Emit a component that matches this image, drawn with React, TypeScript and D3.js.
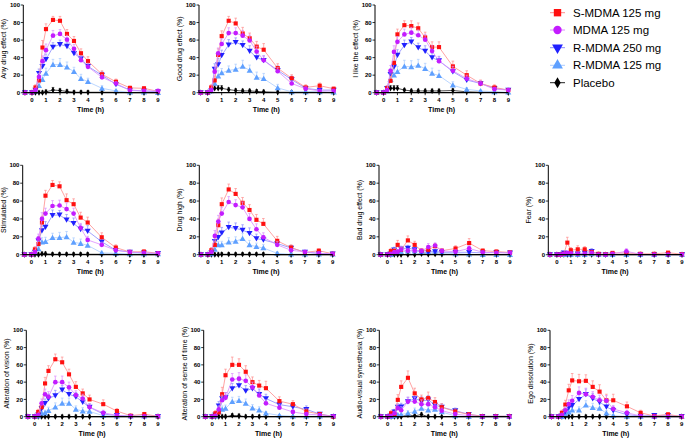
import React from 'react';
import * as d3 from 'd3';

const TIMES = [-0.5, 0, 0.25, 0.5, 0.75, 1, 1.5, 2, 2.5, 3, 3.5, 4, 5, 6, 7, 8, 9];
const X_TICKS = [0, 1, 2, 3, 4, 5, 6, 7, 8, 9];
const Y_TICKS = [0, 20, 40, 60, 80, 100];
const SERIES_NAMES = ['S-MDMA 125 mg', 'MDMA 125 mg', 'R-MDMA 250 mg', 'R-MDMA 125 mg', 'Placebo'];
const PANEL_TITLES = [
  'Any drug effect (%)', 'Good drug effect (%)', 'I like the effect (%)',
  'Stimulated (%)', 'Drug high (%)', 'Bad drug effect (%)', 'Fear (%)',
  'Alteration of vision (%)', 'Alteration of sense of time (%)', 'Audio-visual synesthesia (%)', 'Ego dissolution (%)',
];

// ---- Any drug effect
const anyS = [0, 0, 6, 14, 51.5, 72.5, 83, 82, 67, 59, 45, 36, 21, 12.5, 5.5, 5, 1.5];
const anyM = [0, 0, 3, 18, 36, 48.5, 65, 67, 60.5, 50, 37, 29.5, 17.5, 10.5, 2.7, 2, 2];
const anyR250 = [0, 0, 3, 22, 30, 38, 52, 55, 53, 45, 39, 30, 20, 9.5, 3, 2, 1];
const anyR125 = [0, 0, 2, 8, 15, 22, 32, 32, 29, 24, 16, 12.5, 5, 2, 0.5, 0.5, 0];
const anyP = [0, 0, 0, 0, 0, 1, 3, 2.5, 1.5, 0.5, 0.5, 0.5, 0.5, 0.5, 0, 0, 0];
const anySe = [0, 0, 3, 4, 8, 6, 4, 5, 5, 5, 5, 5, 4, 3, 2, 2, 1];
const anyMe = [0, 0, 2, 4, 6, 7, 6, 5, 5, 5, 4, 4, 3, 2, 1, 1, 1];
const anyR250e = [0, 0, 2, 5, 6, 6, 5, 5, 4, 5, 4, 4, 4, 3, 2, 1, 1];
const anyR125e = [0, 0, 2, 4, 5, 6, 6, 7, 6, 5, 5, 4, 3, 2, 1, 1, 0];
const anyPe = [0, 0, 2, 2, 2, 2, 3, 2, 2, 2, 2, 2, 2, 2, 2, 2, 0];

// ---- Good drug effect
const goodS = [0, 0, 6, 14, 43, 64.5, 82, 79, 67.5, 62, 52.5, 49, 28, 16.5, 6, 8, 4.5];
const goodM = [0, 0, 3, 24, 45, 55.5, 68, 68, 65, 59.5, 47, 37, 24.5, 10.5, 4.5, 2, 2];
const goodR250 = [0, 0, 2, 27, 32, 42.5, 54.5, 57.5, 54, 47.5, 40, 37, 25.5, 15, 5, 3, 3];
const goodR125 = [0, 0, 2, 10.5, 19, 22.5, 25.5, 26.5, 30, 25.5, 17.5, 16, 5.5, 1, 1, 1, 0.5];
const goodP = [0, 0, 3, 5, 5, 5, 3.5, 2.5, 2, 2, 1.5, 1, 0.5, 0.5, 0.5, 0.5, 0];
const goodSe = [0, 0, 3, 5, 7, 6, 5, 6, 7, 6, 6, 7, 5, 4, 3, 3, 2];
const goodMe = [0, 0, 2, 6, 6, 6, 6, 6, 6, 6, 6, 5, 4, 3, 2, 1, 1];
const goodR250e = [0, 0, 2, 6, 7, 6, 6, 5, 5, 6, 5, 5, 5, 4, 2, 2, 2];
const goodR125e = [0, 0, 2, 5, 6, 5, 5, 6, 7, 6, 6, 6, 4, 1, 1, 1, 1];
const goodPe = [0, 0, 2, 3, 3, 3, 2, 2, 2, 2, 2, 2, 2, 2, 2, 2, 0];

// ---- I like the effect
const likeS = [0, 0, 5, 13.5, 34, 66.5, 77, 76, 73.5, 63, 52, 52, 30, 20, 10.5, 6, 3];
const likeM = [0, 0, 3, 25, 46.5, 58, 66.5, 68.5, 65.5, 60.5, 47.5, 36, 25, 16, 10.5, 4, 3];
const likeR250 = [0, 0, 5, 21, 29.5, 43, 54, 58, 51.5, 47.5, 40, 36.5, 24, 14.5, 10.5, 5, 3];
const likeR125 = [0, 0, 2, 15, 20, 24, 30, 29.5, 31, 27.5, 22, 19.5, 8.5, 3.8, 2, 1, 0.5];
const likeP = [0, 0, 4, 5, 5, 5, 3, 2, 2, 2, 2, 2, 2.5, 1, 0.5, 0.5, 0];
const likeSe = [0, 0, 3, 5, 8, 6, 5, 6, 6, 6, 6, 6, 6, 5, 4, 3, 2];
const likeMe = [0, 0, 2, 6, 7, 6, 6, 6, 6, 6, 6, 5, 5, 4, 3, 2, 1];
const likeR250e = [0, 0, 3, 6, 6, 6, 6, 5, 5, 6, 5, 5, 5, 4, 3, 2, 2];
const likeR125e = [0, 0, 2, 5, 6, 6, 7, 7, 7, 6, 6, 6, 4, 2, 1, 1, 1];
const likePe = [0, 0, 2, 3, 3, 3, 2, 2, 2, 2, 2, 2, 2, 2, 2, 2, 0];

// ---- Stimulated
const stimS = [0, 0, 6, 12, 36, 66, 78, 76.5, 61, 56.5, 41.5, 36, 19.5, 8, 3, 3.5, 1.5];
const stimM = [0, 0, 3, 18, 40, 46, 54.5, 55, 51, 46, 30, 16.5, 11, 5, 3, 2, 1.5];
const stimR250 = [0, 0, 3, 15.5, 27, 31, 44, 44.5, 39, 35, 28.5, 26.5, 14.5, 5, 3, 2, 1.5];
const stimR125 = [0, 0, 2, 6.5, 14, 14.5, 19, 19, 20, 13.8, 12.5, 10.5, 2, 1.5, 1, 1, 1];
const stimP = [0, 0, 0, 0, 1, 1, 0.5, 0.5, 0.5, 0.5, 0.5, 0.5, 0.5, 0.5, 0, 0, 0];
const stimSe = [0, 0, 3, 4, 7, 6, 5, 5, 7, 6, 6, 6, 5, 3, 2, 2, 1];
const stimMe = [0, 0, 2, 5, 7, 6, 6, 6, 7, 6, 5, 4, 3, 2, 2, 1, 1];
const stimR250e = [0, 0, 2, 5, 5, 6, 6, 5, 6, 6, 5, 6, 4, 2, 2, 1, 1];
const stimR125e = [0, 0, 1, 3, 5, 5, 5, 6, 6, 5, 5, 4, 2, 1, 1, 1, 0];
const stimPe = [0, 0, 2, 2, 2, 2, 2, 2, 2, 2, 2, 2, 2, 2, 2, 2, 0];

// ---- Drug high
const highS = [0, 0, 5, 11, 33, 56.5, 73, 68, 58, 50, 39, 34.5, 15.5, 8, 2.5, 4.5, 1];
const highM = [0, 0, 3, 21, 37, 46, 59, 55.5, 53, 40, 28.5, 19.5, 11, 5, 3, 1.5, 1];
const highR250 = [0, 0, 2, 15, 19.5, 24.5, 30.5, 29.5, 27.5, 24, 18, 16.5, 12.5, 7.5, 3, 1.5, 1];
const highR125 = [0, 0, 1, 6, 11, 11, 14, 15, 18, 11, 9, 7.5, 1.5, 0.5, 0.5, 0.5, 0.5];
const highP = [0, 0, 0, 0, 0, 0.5, 0.5, 0.5, 0.5, 0.5, 0.5, 0.5, 0, 0, 0, 0, 0];
const highSe = [0, 0, 3, 4, 7, 7, 6, 6, 6, 6, 6, 6, 5, 3, 2, 2, 1];
const highMe = [0, 0, 2, 6, 7, 7, 6, 6, 6, 6, 6, 5, 4, 2, 2, 1, 1];
const highR250e = [0, 0, 2, 5, 6, 6, 6, 6, 6, 6, 5, 5, 4, 3, 2, 1, 1];
const highR125e = [0, 0, 1, 3, 4, 4, 5, 5, 6, 5, 4, 4, 2, 1, 0, 0, 0];
const highPe = [0, 0, 2, 2, 2, 2, 2, 2, 2, 2, 2, 2, 2, 2, 2, 2, 0];

// ---- Bad drug effect
const badS = [0, 0, 4, 4, 11, 5.5, 16, 11, 4.5, 5.5, 9.5, 4.5, 7, 13, 4.5, 3.5, 2.5];
const badM = [0, 0, 1, 2.7, 3.4, 5.7, 4.5, 4.5, 4.2, 8.5, 10.3, 4.2, 3.4, 7, 2.7, 2, 2];
const badR250 = [0, 0, 1, 5.3, 2.7, 6.5, 7.5, 5.7, 2.7, 2.7, 3.4, 2.7, 2.7, 2.7, 2, 2.7, 2];
const badR125 = [0, 0, 0, 2, 3, 3, 4, 4, 3, 3, 4, 2, 1, 0.5, 0, 0, 0];
const badP = [0, 0, 0, 0, 0, 0, 0, 0, 1, 0.5, 0.5, 0.5, 0, 0, 0, 0, 0];
const badSe = [0, 0, 3, 3, 5, 3, 5, 4, 2, 3, 3, 2, 3, 5, 2, 2, 1];
const badMe = [0, 0, 1, 2, 2, 3, 2, 2, 2, 4, 3, 2, 2, 3, 1, 1, 1];
const badR250e = [0, 0, 1, 3, 2, 3, 3, 3, 2, 2, 2, 2, 2, 2, 1, 1, 1];
const badR125e = [0, 0, 0, 2, 2, 2, 2, 2, 2, 2, 2, 1, 1, 0, 0, 0, 0];
const badPe = [0, 0, 2, 2, 2, 2, 2, 2, 2, 2, 2, 2, 2, 2, 2, 2, 0];

// ---- Fear
const fearS = [0, 0, 0, 1, 13.5, 5, 6, 6, 3, 1, 0.5, 2, 2, 1, 1, 2.3, 0.5];
const fearM = [0, 0, 0, 1, 2, 1.5, 1, 1, 2, 0, 0, 1, 3.8, 0.5, 0, 0, 0];
const fearR250 = [0, 0, 0, 2, 1, 1, 1, 2, 3.8, 0.5, 0, 0, 1, 0, 0, 0.5, 0];
const fearR125 = [0, 0, 0, 0, 1, 0, 0, 0, 1, 0, 0, 0, 0, 0, 0, 0, 0];
const fearP = [0, 0, 0, 0, 0, 0, 0, 0, 0, 0, 0, 0, 0, 0, 0, 0, 0];
const fearSe = [0, 0, 0, 1, 6, 3, 4, 3, 2, 1, 0, 1, 1, 1, 1, 1, 0];
const fearMe = [0, 0, 0, 1, 1, 1, 1, 1, 1, 0, 0, 1, 3, 0, 0, 0, 0];
const fearR250e = [0, 0, 0, 1, 1, 1, 1, 1, 3, 0, 0, 0, 1, 0, 0, 0, 0];
const fearR125e = [0, 0, 0, 0, 1, 0, 0, 0, 1, 0, 0, 0, 0, 0, 0, 0, 0];
const fearPe = [0, 0, 2, 2, 2, 2, 0, 0, 0, 0, 0, 0, 0, 0, 0, 0, 0];

// ---- Alteration of vision
const visS = [0, 0, 5.5, 11, 38.5, 53, 66.5, 63, 49, 34.5, 27, 20, 14.5, 6.5, 1.2, 3, 0.4];
const visM = [0, 0, 2, 15.5, 26, 23, 40, 40, 34, 25, 21, 11, 4.5, 1.5, 0.5, 0.5, 0.5];
const visR250 = [0, 0, 2, 9.5, 15.5, 21, 24.5, 31, 26, 23, 17, 11, 3, 1.5, 0.5, 0.5, 0.5];
const visR125 = [0, 0, 0.5, 4, 4.5, 7, 11, 15.5, 15.5, 8.5, 6.5, 6, 1.2, 0.5, 0.5, 0.5, 0.5];
const visP = [0, 0, 0, 0, 0, 0, 0, 0, 0, 0, 0, 0, 0, 0, 0, 0, 0];
const visSe = [0, 0, 3, 5, 7, 6, 6, 6, 6, 6, 5, 5, 5, 3, 1, 2, 0];
const visMe = [0, 0, 2, 5, 6, 6, 7, 7, 6, 5, 5, 4, 3, 1, 0, 0, 0];
const visR250e = [0, 0, 2, 4, 5, 5, 6, 5, 5, 5, 4, 4, 2, 1, 0, 0, 0];
const visR125e = [0, 0, 1, 2, 3, 4, 5, 6, 6, 4, 4, 4, 1, 0, 0, 0, 0];
const visPe = [0, 0, 2, 2, 2, 2, 2, 2, 2, 2, 2, 2, 0, 0, 0, 0, 0];

// ---- Alteration of sense of time
const timeS = [0, 0, 4, 5, 26, 48, 60, 60, 52, 40, 36, 33, 18, 14.5, 6, 3, 0];
const timeM = [0, 0, 1, 8.5, 19, 22, 43, 44, 41.5, 34, 24.5, 15.5, 10.5, 5.5, 3, 2, 0.5];
const timeR250 = [0, 0, 2, 12.5, 21, 22, 32.5, 36, 30, 32.5, 26, 21, 14, 11.5, 8.5, 3, 0.4];
const timeR125 = [0, 0, 0.5, 6, 8.5, 9.5, 17.5, 18.5, 15.5, 10, 7.5, 4, 1.5, 0.5, 0.5, 0.5, 0.5];
const timeP = [0, 0, 0, 0, 0, 0, 1.5, 1, 0, 0, 0, 0, 0, 0, 0, 0, 0];
const timeSe = [0, 0, 3, 4, 8, 7, 9, 7, 7, 6, 6, 8, 5, 4, 3, 2, 0];
const timeMe = [0, 0, 1, 4, 6, 6, 7, 7, 7, 6, 5, 4, 4, 3, 2, 1, 0];
const timeR250e = [0, 0, 2, 5, 6, 6, 6, 6, 6, 6, 6, 5, 5, 4, 4, 2, 0];
const timeR125e = [0, 0, 1, 3, 4, 4, 5, 5, 5, 4, 4, 2, 1, 0, 0, 0, 0];
const timePe = [0, 0, 2, 2, 2, 2, 2, 2, 2, 2, 2, 2, 0, 0, 0, 0, 0];

// ---- Audio-visual synesthesia
const synS = [0, 0, 4, 3, 19.5, 34.5, 45, 27, 20, 21.5, 17, 11, 6, 2.7, 0.5, 0.5, 0.5];
const synM = [0, 0, 1, 4, 10, 7.5, 17.5, 17.5, 14.5, 14.5, 11, 7, 3, 1.2, 0, 0, 0];
const synR250 = [0, 0, 1, 5.5, 11, 11.5, 17.5, 21, 18, 19.5, 13.5, 11, 7, 2.7, 0.5, 0.5, 0.5];
const synR125 = [0, 0, 0, 1, 2, 2.5, 4, 6, 9.5, 7.5, 8.5, 5.5, 0.8, 0, 0, 0, 0];
const synP = [0, 0, 0, 0, 0, 0, 2, 1, 2.5, 0, 0, 0, 0, 0, 0, 0, 0];
const synSe = [0, 0, 3, 2, 6, 7, 8, 6, 5, 7, 5, 4, 3, 2, 0, 0, 0];
const synMe = [0, 0, 1, 2, 4, 4, 5, 5, 5, 5, 4, 3, 2, 1, 0, 0, 0];
const synR250e = [0, 0, 1, 3, 4, 4, 5, 5, 5, 5, 5, 4, 3, 1, 0, 0, 0];
const synR125e = [0, 0, 0, 1, 2, 2, 3, 4, 4, 4, 4, 3, 1, 0, 0, 0, 0];
const synPe = [0, 0, 2, 2, 2, 2, 2, 2, 2, 2, 2, 0, 0, 0, 0, 0, 0];

// ---- Ego dissolution
const egoS = [0, 0, 4.5, 14, 30.5, 42, 41, 41.5, 34.5, 29, 19, 19, 12, 4.5, 0.8, 2.7, 0];
const egoM = [0, 0, 2, 7.5, 14.5, 18.5, 27.5, 26, 23, 19, 18.5, 9, 4.5, 0.8, 0, 0, 0];
const egoR250 = [0, 0, 1, 6, 10.5, 13, 20, 26, 21, 17, 11.5, 7, 2.3, 0.8, 1.5, 1.5, 0.5];
const egoR125 = [0, 0, 0, 2.7, 5.3, 7.5, 7.5, 13.5, 10.5, 9.5, 4, 1.2, 0.3, 0.3, 0.3, 0.3, 0.3];
const egoP = [0, 0, 0, 0, 0, 0, 0, 0, 0, 0, 0, 0, 0, 0, 0, 0, 0];
const egoSe = [0, 0, 3, 5, 7, 8, 8, 7, 7, 8, 7, 7, 5, 3, 1, 2, 0];
const egoMe = [0, 0, 2, 4, 5, 6, 7, 7, 6, 6, 6, 4, 3, 1, 0, 0, 0];
const egoR250e = [0, 0, 1, 4, 5, 5, 6, 6, 6, 5, 5, 4, 2, 1, 1, 1, 0];
const egoR125e = [0, 0, 0, 2, 3, 4, 4, 5, 5, 5, 3, 1, 0, 0, 0, 0, 0];
const egoPe = [0, 0, 2, 2, 2, 2, 2, 2, 2, 2, 2, 0, 0, 0, 0, 0, 0];

const PANEL_VALUES = [
  [anyS, anyM, anyR250, anyR125, anyP],
  [goodS, goodM, goodR250, goodR125, goodP],
  [likeS, likeM, likeR250, likeR125, likeP],
  [stimS, stimM, stimR250, stimR125, stimP],
  [highS, highM, highR250, highR125, highP],
  [badS, badM, badR250, badR125, badP],
  [fearS, fearM, fearR250, fearR125, fearP],
  [visS, visM, visR250, visR125, visP],
  [timeS, timeM, timeR250, timeR125, timeP],
  [synS, synM, synR250, synR125, synP],
  [egoS, egoM, egoR250, egoR125, egoP],
];
const PANEL_ERRORS = [
  [anySe, anyMe, anyR250e, anyR125e, anyPe],
  [goodSe, goodMe, goodR250e, goodR125e, goodPe],
  [likeSe, likeMe, likeR250e, likeR125e, likePe],
  [stimSe, stimMe, stimR250e, stimR125e, stimPe],
  [highSe, highMe, highR250e, highR125e, highPe],
  [badSe, badMe, badR250e, badR125e, badPe],
  [fearSe, fearMe, fearR250e, fearR125e, fearPe],
  [visSe, visMe, visR250e, visR125e, visPe],
  [timeSe, timeMe, timeR250e, timeR125e, timePe],
  [synSe, synMe, synR250e, synR125e, synPe],
  [egoSe, egoMe, egoR250e, egoR125e, egoPe],
];

// ---- layout (pixel geometry, not data)
const ROWS = [
  { top: 5, bottom: 92.7 },
  { top: 165.3, bottom: 254.7 },
  { top: 330.3, bottom: 416.7 },
];
const LAYOUT = [
  { row: 0, left: 23.3, right: 158 },
  { row: 0, left: 199, right: 333.7 },
  { row: 0, left: 375, right: 508.3 },
  { row: 1, left: 22.7, right: 158 },
  { row: 1, left: 199.3, right: 332.7 },
  { row: 1, left: 379, right: 510 },
  { row: 1, left: 548.3, right: 682 },
  { row: 2, left: 26.3, right: 158 },
  { row: 2, left: 203.7, right: 333.3 },
  { row: 2, left: 379.3, right: 509.3 },
  { row: 2, left: 550, right: 681.7 },
];
const X_DOMAIN: [number, number] = [-0.62, 9];

const STYLES = [
  { color: '#FF1010', line: '#FF8C8C', shape: 'square' },
  { color: '#C31CFF', line: '#DB8CFF', shape: 'circle' },
  { color: '#2020FF', line: '#8A8AFF', shape: 'down' },
  { color: '#5FA0FF', line: '#AACBFF', shape: 'up' },
  { color: '#000000', line: '#222222', shape: 'diamond' },
];
const DRAW_ORDER = [4, 3, 2, 0, 1];
const FONT = '"Liberation Sans", Arial, sans-serif';

function symbolPath(shape: string, scale: number) {
  const map: Record<string, [any, number]> = {
    square: [d3.symbolSquare, 17],
    circle: [d3.symbolCircle, 17],
    down: [d3.symbolTriangle, 16],
    up: [d3.symbolTriangle, 16],
    diamond: [d3.symbolDiamond, 11],
  };
  const [t, a] = map[shape];
  return d3.symbol().type(t).size(a * scale)() as string;
}

function Panel({ idx }: { idx: number }) {
  const lay = LAYOUT[idx];
  const row = ROWS[lay.row];
  const x = d3.scaleLinear().domain(X_DOMAIN).range([lay.left, lay.right]);
  const y = d3.scaleLinear().domain([0, 100]).range([row.bottom, row.top]);
  const vals = PANEL_VALUES[idx];
  const errs = PANEL_ERRORS[idx];
  const line = d3.line<number>().x((_, i) => x(TIMES[i])).y((d) => y(d));
  const midX = (lay.left + lay.right) / 2;
  const midY = (row.top + row.bottom) / 2;
  return (
    <g>
      {DRAW_ORDER.map((s) => {
        const st = STYLES[s];
        const v = vals[s];
        const e = errs[s];
        const sym = symbolPath(st.shape, 1);
        return (
          <g key={s}>
            <path d={line(v) as string} fill="none" stroke={st.line} strokeWidth={0.8} />
            {v.map((d, i) =>
              e[i] > 0 ? (
                <g key={'e' + i} stroke={st.line} strokeWidth={0.7}>
                  <line x1={x(TIMES[i])} x2={x(TIMES[i])} y1={y(d)} y2={y(d + e[i])} />
                  <line x1={x(TIMES[i]) - 1.3} x2={x(TIMES[i]) + 1.3} y1={y(d + e[i])} y2={y(d + e[i])} />
                </g>
              ) : null
            )}
            {v.map((d, i) => (
              <path
                key={'m' + i}
                d={sym}
                fill={st.color}
                transform={`translate(${x(TIMES[i])},${y(d) + (st.shape === 'up' ? 0.6 : st.shape === 'down' ? -0.6 : 0)})${st.shape === 'down' ? ' rotate(180)' : ''}`}
              />
            ))}
          </g>
        );
      })}
      {/* y axis */}
      <line x1={lay.left} x2={lay.left} y1={row.bottom} y2={row.top} stroke="#000" strokeWidth={1} />
      {Y_TICKS.map((t) => (
        <g key={'y' + t}>
          <line x1={lay.left - 2.5} x2={lay.left} y1={y(t)} y2={y(t)} stroke="#000" strokeWidth={0.8} />
          <text x={lay.left - 3.3} y={y(t) + 2.1} fontSize={6} fontWeight="bold" textAnchor="end" fontFamily={FONT}>
            {t}
          </text>
        </g>
      ))}
      {/* x axis */}
      <line x1={lay.left} x2={x(9)} y1={row.bottom} y2={row.bottom} stroke="#000" strokeWidth={1.3} />
      {X_TICKS.map((t) => (
        <g key={'x' + t}>
          <line x1={x(t)} x2={x(t)} y1={row.bottom} y2={row.bottom + 2.5} stroke="#000" strokeWidth={0.8} />
          <text x={x(t)} y={row.bottom + 9} fontSize={6} fontWeight="bold" textAnchor="middle" fontFamily={FONT}>
            {t}
          </text>
        </g>
      ))}
      <text x={midX} y={row.bottom + 19} fontSize={7} fontWeight="bold" textAnchor="middle" fontFamily={FONT}>
        Time (h)
      </text>
      <text
        transform={`translate(${lay.left - 17},${midY}) rotate(-90)`}
        fontSize={7}
        textAnchor="middle"
        fontFamily={FONT}
      >
        {PANEL_TITLES[idx]}
      </text>
    </g>
  );
}

function Legend() {
  const ys = [12.7, 30, 47.7, 65.3, 82.7];
  return (
    <g>
      {SERIES_NAMES.map((name, i) => {
        const st = STYLES[i];
        const yy = ys[i];
        return (
          <g key={name}>
            <line x1={550} x2={565} y1={yy} y2={yy} stroke={st.line} strokeWidth={1} />
            <path
              d={symbolPath(st.shape, 3.2)}
              fill={st.color}
              transform={`translate(557.5,${yy})${st.shape === 'down' ? ' rotate(180)' : ''}`}
            />
            <text x={573} y={yy + 4} fontSize={11.5} fontFamily={FONT} fill="#000">
              {name}
            </text>
          </g>
        );
      })}
    </g>
  );
}

export default function App() {
  return (
    <svg
      width={685}
      height={439}
      viewBox="0 0 685 439"
      style={{ position: 'absolute', left: 0, top: 0, background: '#fff' }}
    >
      <rect width={685} height={439} fill="#fff" />
      {PANEL_TITLES.map((_, i) => (
        <Panel key={i} idx={i} />
      ))}
      <Legend />
    </svg>
  );
}
